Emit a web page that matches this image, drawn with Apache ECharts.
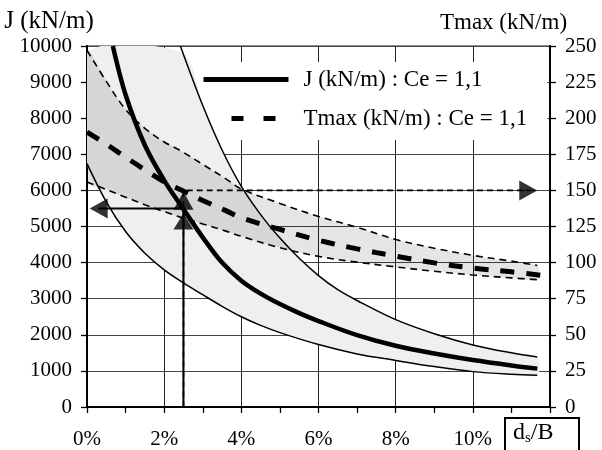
<!DOCTYPE html>
<html>
<head>
<meta charset="utf-8">
<script src="https://cdn.jsdelivr.net/npm/echarts@6/dist/echarts.min.js"></script>
<style>
  html, body { margin: 0; padding: 0; background: #fff; }
  #chart { width: 602px; height: 450px; }
</style>
</head>
<body>
<div id="chart"></div>
<script>
// points are [d_s/B in %, value]; J on the left axis, Tmax on the right one
const J_MAIN = [[0.67, 10000], [1, 8650], [1.5, 7250], [2, 6280], [2.5, 5480], [3, 4700], [3.5, 4000], [4, 3500],
  [4.5, 3140], [5, 2850], [5.5, 2600], [6, 2380], [7, 1990], [8, 1695], [9, 1480], [10, 1300], [11, 1150], [11.67, 1063]]
const J_UPPER = [[2.42, 10000], [3, 8350], [3.5, 7120], [4, 6110], [4.5, 5330], [5, 4680], [5.5, 4120], [6, 3640],
  [6.5, 3250], [7, 2950], [8, 2420], [9, 2030], [10, 1720], [11, 1500], [11.67, 1385]]
const J_LOWER = [[0, 6740], [0.5, 5680], [1, 4860], [1.5, 4260], [2, 3800], [2.5, 3440], [3, 3110], [3.5, 2790],
  [4, 2500], [4.5, 2260], [5, 2060], [6, 1730], [7, 1470], [8, 1290], [9, 1120], [10, 980], [11, 905], [11.67, 878]]
// top edge of the grey J zone (it stops a bit under 10000)
const J_ZONE_TOP = [[0, 9800], [2.47, 9800], [3, 8350], [3.5, 7120], [4, 6110], [4.5, 5330], [5, 4680], [5.5, 4120],
  [6, 3640], [6.5, 3250], [7, 2950], [8, 2420], [9, 2030], [10, 1720], [11, 1500], [11.67, 1385]]

const T_MAIN = [[0, 190.4], [0.5, 182], [1, 173], [1.5, 164.3], [2, 156], [2.5, 149.5], [3, 143], [3.6, 136],
  [4, 131], [5, 123], [6, 115.5], [7, 109.5], [8, 104.5], [9, 99.8], [10, 96.2], [11, 93.6], [12, 90.5]]
const T_UPPER = [[0, 247], [0.5, 225.5], [1, 206], [1.5, 193], [2, 183.5], [2.42, 177.6], [3, 168], [3.6, 158],
  [4, 151], [5, 141], [6, 132], [7, 124.5], [8, 116], [9, 110], [10, 105], [11, 101], [11.67, 98]]
const T_LOWER = [[0, 155.8], [0.5, 150.6], [1, 145.3], [1.5, 140.1], [2, 135.3], [2.42, 131.5], [3, 126.8], [3.6, 121.8],
  [4, 118.2], [5, 110.3], [6, 104.3], [7, 100.3], [8, 97], [9, 94], [10, 91.4], [11, 89.4], [11.67, 88.2]]

// reading example: d_s/B = 2.5 % gives J and Tmax
const READ_X = 2.5
const READ_J = 5500
const READ_T = 150
const J_ARROW_END = 0.3
const T_ARROW_END = 11.5
// arrow tips
const TIP_J_UP = [2.5, 5360]
const TIP_J_LEFT = [0.07, 5500]
const TIP_T_UP = [2.5, 149]
const TIP_T_RIGHT = [11.67, 150]

const FONT = '"Liberation Serif", "Times New Roman", serif'
const SERIES_J = 'J (kN/m) : Ce = 1,1'
const SERIES_T = 'Tmax (kN/m) : Ce = 1,1'

function curve(name, data, axis, width, type) {
  return {
    name, type: 'line', data, yAxisIndex: axis, symbol: 'none', smooth: 0.35,
    lineStyle: { color: '#000', width, type }, z: 4, silent: true,
  }
}

// grey zone between two curves, drawn as one polygon
function zone(top, bottom, axis, color, z) {
  return {
    type: 'custom', yAxisIndex: axis, data: [[0, 0]], silent: true, z, clip: true,
    renderItem: (params, api) => ({
      type: 'polygon',
      shape: {
        points: top.concat(bottom.slice().reverse()).map(p => api.coord(p)),
        smooth: 0.3,
      },
      style: { fill: color },
    }),
  }
}

function head(tip, axis, rotate, offset, size) {
  return {
    type: 'scatter', data: [tip], yAxisIndex: axis, symbol: 'triangle',
    symbolSize: size, symbolRotate: rotate, symbolOffset: offset,
    itemStyle: { color: '#000' }, z: 6, silent: true,
  }
}

const chart = echarts.init(document.getElementById('chart'))

chart.setOption({
  animation: false,
  backgroundColor: '#fff',
  textStyle: { fontFamily: FONT, color: '#000' },
  grid: {
    left: 87, right: 52, top: 46, bottom: 43,
    show: true, borderColor: '#8c8c8c', borderWidth: 2,
  },
  // legend box sits over the grid lines but under the curves
  legend: {
    left: 195, top: 62, orient: 'vertical', z: 0.5,
    backgroundColor: '#fff',
    padding: [6, 20, 10, 6],
    itemWidth: 85, itemHeight: 26, itemGap: 16,
    selectedMode: false,
    itemStyle: { opacity: 0 },
    lineStyle: { width: 5 },
    textStyle: { fontFamily: FONT, fontSize: 23, color: '#000', padding: [0, 0, 0, 10] },
    data: [
      { name: SERIES_J },
      { name: SERIES_T, lineStyle: { width: 5, type: [12, 20, 12, 40], dashOffset: -28 } },
    ],
  },
  xAxis: {
    type: 'value', min: 0, max: 12, interval: 2,
    axisLine: { lineStyle: { color: '#000', width: 2 } },
    axisTick: { length: 6, lineStyle: { color: '#000', width: 1.3 } },
    minorTick: { show: true, splitNumber: 2, length: 6, lineStyle: { color: '#000', width: 1.3 } },
    splitLine: { show: true, lineStyle: { color: '#222', width: 1 } },
    axisLabel: {
      margin: 22, fontSize: 21, fontFamily: FONT, color: '#000',
      formatter: v => (v >= 12 ? '' : v + '%'),
    },
  },
  yAxis: [
    {
      type: 'value', min: 0, max: 10000, interval: 1000,
      name: 'J (kN/m)', nameLocation: 'end', nameGap: 12,
      nameTextStyle: { fontSize: 25, fontFamily: FONT, color: '#000', align: 'center', padding: [0, 76, 0, 0] },
      axisLine: { show: true, lineStyle: { color: '#000', width: 2 } },
      axisTick: { show: true, length: 6, lineStyle: { color: '#000', width: 1.3 } },
      splitLine: { show: true, lineStyle: { color: '#444', width: 1 } },
      axisLabel: { margin: 15, fontSize: 21, fontFamily: FONT, color: '#000', formatter: v => String(v) },
    },
    {
      type: 'value', min: 0, max: 250, interval: 25, position: 'right',
      name: 'Tmax (kN/m)', nameLocation: 'end', nameGap: 12,
      nameTextStyle: { fontSize: 23, fontFamily: FONT, color: '#000', align: 'center', padding: [0, 93, 0, 0] },
      axisLine: { show: true, lineStyle: { color: '#000', width: 2 } },
      axisTick: { show: true, length: 6, lineStyle: { color: '#000', width: 1.3 } },
      splitLine: { show: false },
      axisLabel: { margin: 15, fontSize: 21, fontFamily: FONT, color: '#000', formatter: v => String(v) },
    },
  ],
  series: [
    // grey zones
    zone(J_ZONE_TOP, J_LOWER, 0, '#efefef', 1),
    zone(T_UPPER, T_LOWER, 1, 'rgba(0,0,0,0.1)', 2),
    // reading arrows
    curve('', [[READ_X, 0], [READ_X, READ_J], [J_ARROW_END, READ_J]], 0, 2, 'solid'),
    curve('', [[READ_X, 0], [READ_X, READ_T], [T_ARROW_END, READ_T]], 1, 1.6, [6, 4]),
    // curves
    curve('', J_LOWER, 0, 1.5, 'solid'),
    curve('', J_UPPER, 0, 1.5, 'solid'),
    curve(SERIES_J, J_MAIN, 0, 4.5, 'solid'),
    curve('', T_LOWER, 1, 1.6, [7, 5]),
    curve('', T_UPPER, 1, 1.6, [7, 5]),
    curve(SERIES_T, T_MAIN, 1, 5, [14, 12]),
    // arrow heads
    head(TIP_J_UP, 0, 0, [0, 8], [20, 16]),
    head(TIP_T_UP, 1, 0, [0, 9], [20, 18]),
    head(TIP_J_LEFT, 0, 90, [9, 0], [20, 18]),
    head(TIP_T_RIGHT, 1, -90, [-9, 0], [20, 18]),
  ],
  graphic: [
    {
      type: 'group', left: 504, top: 417,
      children: [
        { type: 'rect', shape: { x: 0, y: 0, width: 74, height: 40 }, style: { fill: '#fff', stroke: '#000', lineWidth: 2 } },
        {
          type: 'text', x: 8, y: 1,
          style: {
            text: '{a|d}{b|s}{a|/B}',
            rich: {
              a: { fontSize: 24, fontFamily: FONT, color: '#000' },
              b: { fontSize: 15, fontFamily: FONT, color: '#000', padding: [12, 0, 0, 0] },
            },
          },
        },
      ],
    },
  ],
})
</script>
</body>
</html>
